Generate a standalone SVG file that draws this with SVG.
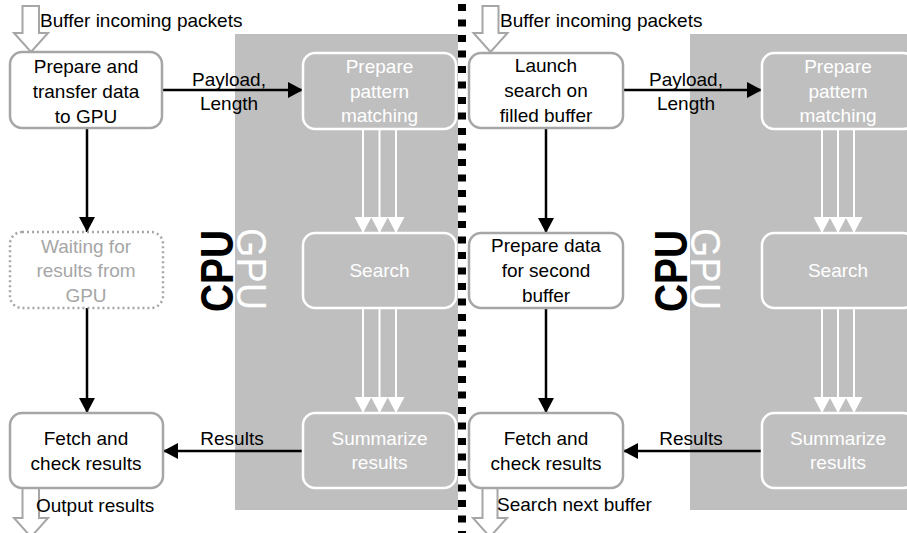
<svg xmlns="http://www.w3.org/2000/svg" width="907" height="533" viewBox="0 0 907 533">
<defs>
<style>
.t{font-family:"Liberation Sans",Arial,sans-serif;font-size:19px;fill:#000;text-anchor:middle}
.tl{font-family:"Liberation Sans",Arial,sans-serif;font-size:19px;fill:#000}
.tw{font-family:"Liberation Sans",Arial,sans-serif;font-size:19px;fill:#fff;text-anchor:middle}
.tg{font-family:"Liberation Sans",Arial,sans-serif;font-size:19px;fill:#a6a6a6;text-anchor:middle}
.cpu{font-family:"Liberation Sans",Arial,sans-serif;font-size:46px;font-weight:bold;fill:#000;text-anchor:middle}
.gpu{font-family:"Liberation Sans",Arial,sans-serif;font-size:43px;fill:#fff;text-anchor:middle}
.bg{fill:#bfbfbf}
.cn{fill:#fff;stroke:#a6a6a6;stroke-width:2.5}
.cd{fill:#fff;stroke:#a6a6a6;stroke-width:2.5;stroke-dasharray:2 3}
.gn{fill:#bfbfbf;stroke:#fff;stroke-width:2.5}
.ba{fill:none;stroke:#000;stroke-width:2.5}
.wa{fill:none;stroke:#fff;stroke-width:2}
.blk{fill:#fff;stroke:#a6a6a6;stroke-width:2}
</style>
<marker id="ab" markerUnits="userSpaceOnUse" markerWidth="16" markerHeight="16" refX="15" refY="8" orient="auto">
<path d="M0,0 L15,8 L0,16 Z" fill="#000"/>
</marker>
<marker id="aw" markerUnits="userSpaceOnUse" markerWidth="17" markerHeight="17" refX="16" refY="8.5" orient="auto">
<path d="M0,0 L16,8.5 L0,17 Z" fill="#fff"/>
</marker>
</defs>

<g id="backgrounds">
<rect class="bg" x="235" y="34" width="223" height="476"/>
<rect class="bg" x="690" y="34" width="217" height="476"/>
</g>

<g id="separator">
<line x1="462" y1="4" x2="462" y2="533" stroke="#000" stroke-width="8" stroke-dasharray="7 8.5"/>
</g>

<g id="labels">
<text class="cpu" transform="translate(233,271) rotate(-90)" textLength="82" lengthAdjust="spacingAndGlyphs">CPU</text>
<text class="gpu" transform="translate(237,269) rotate(90)" textLength="82" lengthAdjust="spacingAndGlyphs">GPU</text>
<text class="cpu" transform="translate(687,271) rotate(-90)" textLength="82" lengthAdjust="spacingAndGlyphs">CPU</text>
<text class="gpu" transform="translate(691,269) rotate(90)" textLength="82" lengthAdjust="spacingAndGlyphs">GPU</text>
</g>

<g id="connectors">
<!-- block arrows -->
<path class="blk" d="M22.5,6 H39 V33 H48 L31,52 L14,33 H22.5 Z"/>
<path class="blk" d="M22.5,488 V518 H14 L31,537 L48,518 H39 V488"/>
<path class="blk" d="M482.5,6 H498.5 V33 H507.5 L490.5,52 L473.5,33 H482.5 Z"/>
<path class="blk" d="M482.5,488 V518 H473 L490,537 L507,518 H497.5 V488"/>
<!-- left panel -->
<line class="ba" x1="162" y1="90" x2="303" y2="90" marker-end="url(#ab)"/>
<line class="ba" x1="87" y1="128" x2="87" y2="232" marker-end="url(#ab)"/>
<line class="ba" x1="87" y1="308" x2="87" y2="413" marker-end="url(#ab)"/>
<line class="ba" x1="303" y1="451" x2="163" y2="451" marker-end="url(#ab)"/>
<line class="wa" x1="363" y1="129" x2="363" y2="233" marker-end="url(#aw)"/>
<line class="wa" x1="379.5" y1="129" x2="379.5" y2="233" marker-end="url(#aw)"/>
<line class="wa" x1="396" y1="129" x2="396" y2="233" marker-end="url(#aw)"/>
<line class="wa" x1="363" y1="308" x2="363" y2="413" marker-end="url(#aw)"/>
<line class="wa" x1="379.5" y1="308" x2="379.5" y2="413" marker-end="url(#aw)"/>
<line class="wa" x1="396" y1="308" x2="396" y2="413" marker-end="url(#aw)"/>
<!-- right panel -->
<line class="ba" x1="623" y1="90" x2="762" y2="90" marker-end="url(#ab)"/>
<line class="ba" x1="546" y1="128" x2="546" y2="233" marker-end="url(#ab)"/>
<line class="ba" x1="546" y1="308" x2="546" y2="413" marker-end="url(#ab)"/>
<line class="ba" x1="762" y1="451" x2="623" y2="451" marker-end="url(#ab)"/>
<line class="wa" x1="822" y1="129" x2="822" y2="233" marker-end="url(#aw)"/>
<line class="wa" x1="838" y1="129" x2="838" y2="233" marker-end="url(#aw)"/>
<line class="wa" x1="854" y1="129" x2="854" y2="233" marker-end="url(#aw)"/>
<line class="wa" x1="822" y1="308" x2="822" y2="413" marker-end="url(#aw)"/>
<line class="wa" x1="838" y1="308" x2="838" y2="413" marker-end="url(#aw)"/>
<line class="wa" x1="854" y1="308" x2="854" y2="413" marker-end="url(#aw)"/>
<!-- connector labels -->
<text class="tl" x="40" y="27">Buffer incoming packets</text>
<text class="tl" x="36" y="512">Output results</text>
<text class="t" x="229" y="86">Payload,</text>
<text class="t" x="229" y="110">Length</text>
<text class="t" x="232" y="445">Results</text>
<text class="tl" x="500" y="27">Buffer incoming packets</text>
<text class="tl" x="497" y="511">Search next buffer</text>
<text class="t" x="686" y="86">Payload,</text>
<text class="t" x="686" y="110">Length</text>
<text class="t" x="691" y="445">Results</text>
</g>

<g id="n-prepare-transfer">
<rect class="cn" x="10" y="52" width="152" height="76" rx="12"/>
<text class="t" x="86" y="73">Prepare and</text>
<text class="t" x="86" y="98">transfer data</text>
<text class="t" x="86" y="123">to GPU</text>
</g>
<g id="n-waiting">
<rect class="cd" x="10" y="232" width="153" height="76" rx="12"/>
<text class="tg" x="86" y="253">Waiting for</text>
<text class="tg" x="86" y="277">results from</text>
<text class="tg" x="86" y="302">GPU</text>
</g>
<g id="n-fetch-left">
<rect class="cn" x="10" y="413" width="153" height="75" rx="12"/>
<text class="t" x="86" y="445">Fetch and</text>
<text class="t" x="86" y="470">check results</text>
</g>
<g id="n-gpu-prepare-left">
<rect class="gn" x="303" y="53" width="153" height="76" rx="12"/>
<text class="tw" x="379.5" y="73">Prepare</text>
<text class="tw" x="379.5" y="98">pattern</text>
<text class="tw" x="379.5" y="122">matching</text>
</g>
<g id="n-gpu-search-left">
<rect class="gn" x="303" y="233" width="153" height="75" rx="12"/>
<text class="tw" x="379.5" y="277">Search</text>
</g>
<g id="n-gpu-summarize-left">
<rect class="gn" x="303" y="413" width="153" height="75" rx="12"/>
<text class="tw" x="379.5" y="445">Summarize</text>
<text class="tw" x="379.5" y="469">results</text>
</g>

<g id="n-launch">
<rect class="cn" x="469" y="53" width="154" height="75" rx="12"/>
<text class="t" x="546" y="72">Launch</text>
<text class="t" x="546" y="97">search on</text>
<text class="t" x="546" y="122">filled buffer</text>
</g>
<g id="n-prepare-second">
<rect class="cn" x="469" y="233" width="154" height="75" rx="12"/>
<text class="t" x="546" y="252">Prepare data</text>
<text class="t" x="546" y="277">for second</text>
<text class="t" x="546" y="302">buffer</text>
</g>
<g id="n-fetch-right">
<rect class="cn" x="469" y="413" width="154" height="75" rx="12"/>
<text class="t" x="546" y="445">Fetch and</text>
<text class="t" x="546" y="470">check results</text>
</g>
<g id="n-gpu-prepare-right">
<rect class="gn" x="762" y="53" width="153" height="76" rx="12"/>
<text class="tw" x="838" y="73">Prepare</text>
<text class="tw" x="838" y="98">pattern</text>
<text class="tw" x="838" y="122">matching</text>
</g>
<g id="n-gpu-search-right">
<rect class="gn" x="762" y="233" width="153" height="75" rx="12"/>
<text class="tw" x="838" y="277">Search</text>
</g>
<g id="n-gpu-summarize-right">
<rect class="gn" x="762" y="413" width="153" height="75" rx="12"/>
<text class="tw" x="838" y="445">Summarize</text>
<text class="tw" x="838" y="469">results</text>
</g>
</svg>
